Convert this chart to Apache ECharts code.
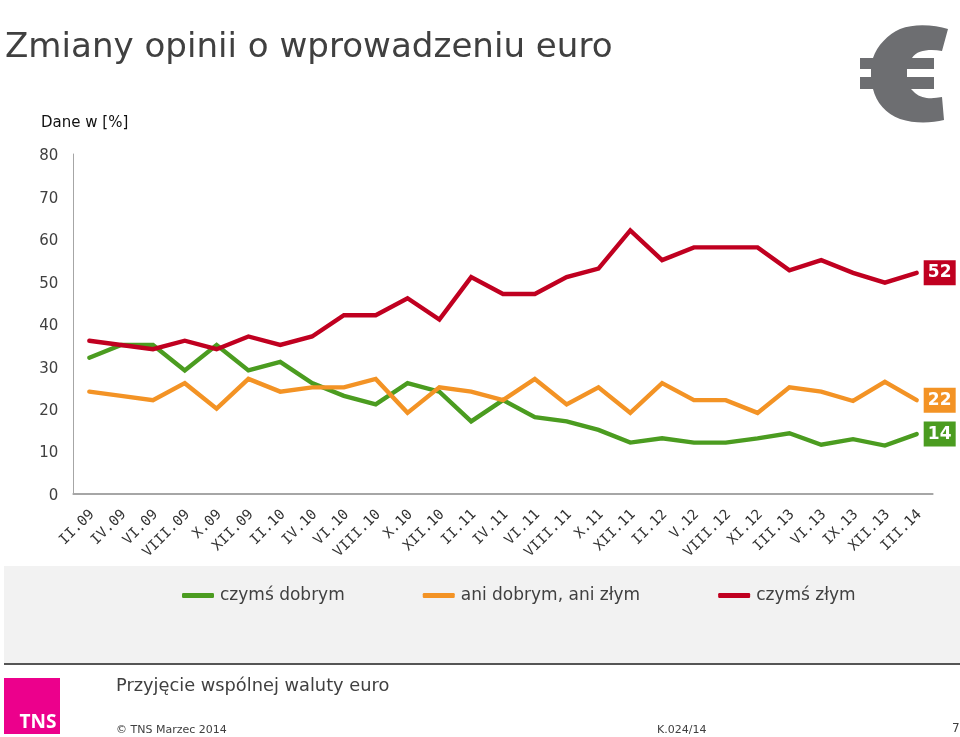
<!DOCTYPE html>
<html><head><meta charset="utf-8">
<style>html,body{margin:0;padding:0;background:#fff}#c{width:960px;height:737px}</style>
<script src="https://cdn.jsdelivr.net/npm/echarts@6/dist/echarts.min.js"></script>
</head><body><div id="c"></div>
<script>
const categories = ['II.09','IV.09','VI.09','VIII.09','X.09','XII.09','II.10','IV.10','VI.10','VIII.10','X.10','XII.10','II.11','IV.11','VI.11','VIII.11','X.11','XII.11','II.12','V.12','VIII.12','XI.12','III.13','VI.13','IX.13','XII.13','III.14'];
const dobrym = [32,35,35,29,35,29,31,26,23,21,26,24,17,22,18,17,15,12,13,12,12,13,14.2,11.5,12.8,11.3,14];
const ani = [24,23,22,26,20,27,24,25,25,27,19,25,24,22,27,21,25,19,26,22,22,19,25,24,21.8,26.3,22];
const zlym = [36,35,34,36,34,37,35,37,42,42,46,41,51,47,47,51,53,62,55,58,58,58,52.6,55,52,49.7,52];
const names = ['czymś dobrym','ani dobrym, ani złym','czymś złym'];
const colors = ['#4b9c20','#f39325','#c00020'];
const font = '"DejaVu Sans", Verdana, sans-serif';
const txt = '#404040';

echarts.graphic.registerShape('euroSign', echarts.graphic.extendShape({
  shape:{},
  buildPath(c){
    c.moveTo(948,29);
    c.bezierCurveTo(935,25,915,23,900,29);
    c.bezierCurveTo(888,34,877,46,873,58);
    c.lineTo(860,58);c.lineTo(860,69);c.lineTo(871,69);c.lineTo(871,77);c.lineTo(860,77);c.lineTo(860,89);c.lineTo(873,89);
    c.bezierCurveTo(876,102,886,114,900,119);
    c.bezierCurveTo(915,124,932,123,944,120);
    c.lineTo(942,97);
    c.bezierCurveTo(932,99,922,99,915,93);
    c.lineTo(911,89);
    c.lineTo(934,89);c.lineTo(934,77);c.lineTo(907,77);c.lineTo(907,69);c.lineTo(934,69);c.lineTo(934,58);c.lineTo(912,58);
    c.bezierCurveTo(917,50,930,49,942,51);
    c.closePath();
  }
}));

function series(name, data, color){
  return {
    name, type:'line', data, symbol:'none', smooth:false,
    lineStyle:{color, width:4.4, cap:'round', join:'miter'},
    itemStyle:{color},
    endLabel:{
      show:true, formatter:p=>String(Math.round(p.value)),
      color:'#fff', fontFamily:font, fontWeight:'bold', fontSize:17,
      backgroundColor:color, width:32, height:25, lineHeight:25, align:'center',
      distance:23
    },
    emphasis:{disabled:true}, animation:false
  };
}
const t=(x,y,text,size,fill,extra)=>({type:'text',x,y,style:Object.assign({text,fontSize:size,fill:fill||txt,fontFamily:font},extra||{})});

const chart = echarts.init(document.getElementById('c'),null,{renderer:'canvas'});
chart.setOption({
  animation:false,
  backgroundColor:'#fff',
  title:{text:'Zmiany opinii o wprowadzeniu euro',left:5,top:31,padding:0,
    textStyle:{fontFamily:font,fontSize:34.1,fontWeight:'normal',color:txt}},
  grid:{left:73.4,right:27.4,top:154,height:339.5,containLabel:false},
  xAxis:{type:'category',data:categories,boundaryGap:true,
    axisLine:{lineStyle:{color:'#a6a6a6',width:2}},axisTick:{show:false},
    axisLabel:{rotate:45,interval:0,margin:16,formatter:'{a|{value}}',
      rich:{a:{color:'#333',fontFamily:'"DejaVu Sans Mono",monospace',fontSize:14.2,padding:[8,0,0,0]}}}},
  yAxis:{type:'value',min:0,max:80,interval:10,
    axisLine:{show:true,lineStyle:{color:'#a6a6a6',width:1}},axisTick:{show:false},splitLine:{show:false},
    axisLabel:{margin:15,formatter:'{a|{value}}',
      rich:{a:{color:txt,fontFamily:font,fontSize:15,padding:[5,0,0,0]}}}},
  legend:{left:182,top:587,padding:0,itemGap:78,itemWidth:32,itemHeight:5,icon:'roundRect',
    data:names,selectedMode:false,
    textStyle:{color:txt,fontFamily:font,fontSize:17,padding:[0,0,0,1]}},
  series:[series(names[0],dobrym,colors[0]),series(names[1],ani,colors[1]),series(names[2],zlym,colors[2])],
  graphic:{elements:[
    {type:'rect',z:-10,shape:{x:4,y:566,width:956,height:97},style:{fill:'#f2f2f2'}},
    {type:'rect',z:-10,shape:{x:4,y:663,width:956,height:2},style:{fill:'#555'}},
    {type:'rect',shape:{x:4,y:678,width:56,height:56},style:{fill:'#ec008c'}},
    {type:'text',x:38,y:722.5,style:{text:'TNS',fontSize:19,fontWeight:'bold',fill:'#fff',fontFamily:'"Open Sans",sans-serif',align:'center',verticalAlign:'middle'}},
    {type:'euroSign',shape:{},style:{fill:'#6d6e71'}},
    t(41,116,'Dane w [%]',15,'#111'),
    t(116,677,'Przyjęcie wspólnej waluty euro',17.8),
    t(116,725,'© TNS Marzec 2014',11),
    t(657,725,'K.024/14',11),
    t(952,723,'7',12)
  ]}
});
</script></body></html>
